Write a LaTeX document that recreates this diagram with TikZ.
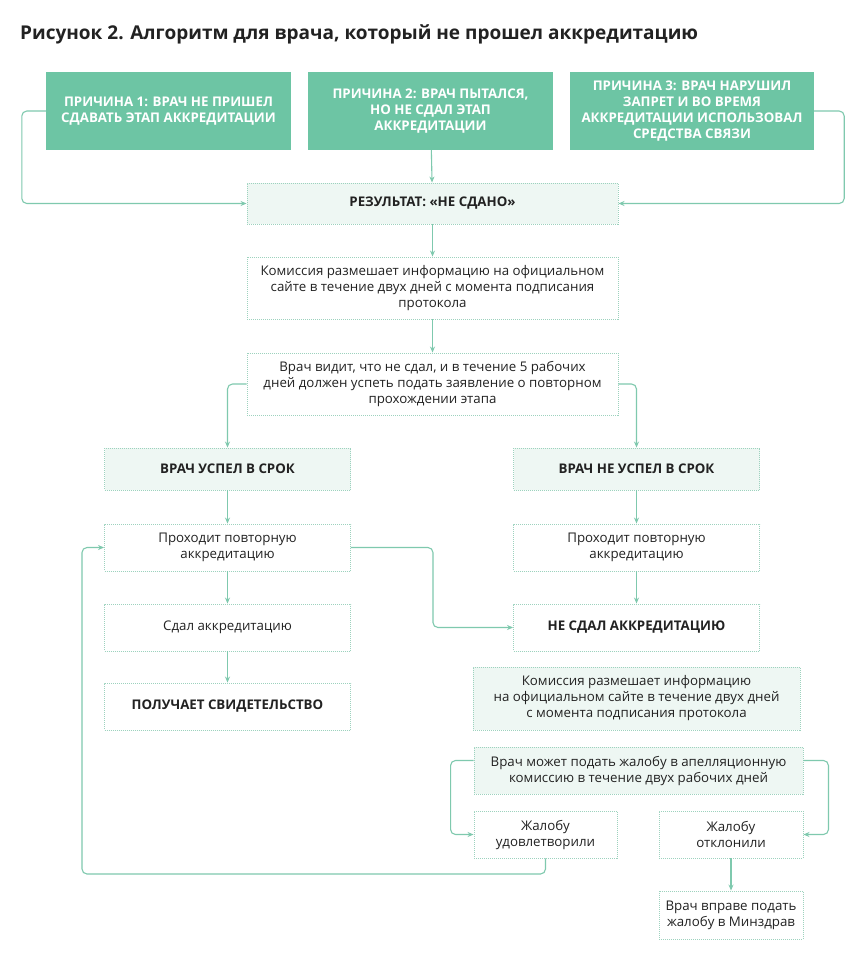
\documentclass[tikz,border=0pt]{standalone}
\usepackage{fontspec}
\setmainfont{Open Sans}
\usetikzlibrary{arrows.meta,calc}
\definecolor{teal1}{HTML}{6DC5A4}
\definecolor{lnc}{HTML}{7FC9AE}
\definecolor{lite}{HTML}{EEF7F3}
\definecolor{dotc}{HTML}{9DD2BE}
\definecolor{txt}{HTML}{222222}
\begin{document}
\begin{tikzpicture}[x=1pt,y=-1pt,
  box/.style={draw=dotc, dash pattern=on 1pt off 1pt, line width=0.9pt, fill=white, text=txt, align=center, inner sep=0pt, font=\fontsize{13.3}{16}\selectfont},
  lbox/.style={box, fill=lite},
  bfont/.style={font=\bfseries\fontsize{13.3}{16}\selectfont},
  top/.style={fill=teal1, text=white, align=center, inner sep=0pt, minimum width=245pt, minimum height=78pt, font=\bfseries\fontsize{13.3}{16}\selectfont},
  arr/.style={draw=lnc, line width=1.1pt, -{Stealth[length=6pt,width=5pt]}, rounded corners=5pt}]
\useasboundingbox (0,0) rectangle (861,960);
\fill[white] (0,0) rectangle (861,960);
\node[anchor=base west, inner sep=0pt, text=txt, font=\bfseries\fontsize{19}{23}\selectfont] (title) at (20,40) {Рисунок 2. Алгоритм для врача, который не прошел аккредитацию};

\node[top] (c1) at (168.5,111) {ПРИЧИНА 1: ВРАЧ НЕ ПРИШЕЛ\\СДАВАТЬ ЭТАП АККРЕДИТАЦИИ};
\node[top] (c2) at (430.5,111) {ПРИЧИНА 2: ВРАЧ ПЫТАЛСЯ,\\НО НЕ СДАЛ ЭТАП\\АККРЕДИТАЦИИ};
\node[top, minimum width=244pt] (c3) at (692,111) {ПРИЧИНА 3: ВРАЧ НАРУШИЛ\\ЗАПРЕТ И ВО ВРЕМЯ\\АККРЕДИТАЦИИ ИСПОЛЬЗОВАЛ\\СРЕДСТВА СВЯЗИ};

\node[lbox, bfont, minimum width=371pt, minimum height=41pt] (res) at (432.5,203.5) {РЕЗУЛЬТАТ: «НЕ СДАНО»};
\node[box, minimum width=371pt, minimum height=62pt] (kom1) at (432.5,288) {Комиссия размешает информацию на официальном\\сайте в течение двух дней с момента подписания\\протокола};
\node[box, minimum width=371pt, minimum height=62pt] (vv) at (432.5,384) {Врач видит, что не сдал, и в течение 5 рабочих\\дней должен успеть подать заявление о повторном\\прохождении этапа};

\node[lbox, bfont, minimum width=246pt, minimum height=42pt] (usp) at (227.5,469) {ВРАЧ УСПЕЛ В СРОК};
\node[lbox, bfont, minimum width=246pt, minimum height=42pt] (neusp) at (636.5,469) {ВРАЧ НЕ УСПЕЛ В СРОК};

\node[box, minimum width=246pt, minimum height=47pt] (pr1) at (227.5,547.5) {Проходит повторную\\аккредитацию};
\node[box, minimum width=246pt, minimum height=47pt] (sdal) at (227.5,627.5) {Сдал аккредитацию};
\node[box, bfont, minimum width=246pt, minimum height=47pt] (pol) at (227.5,706.5) {ПОЛУЧАЕТ СВИДЕТЕЛЬСТВО};

\node[box, minimum width=246pt, minimum height=47pt] (pr2) at (636.5,547.5) {Проходит повторную\\аккредитацию};
\node[box, bfont, minimum width=246pt, minimum height=47pt] (nesdal) at (636.5,627.5) {НЕ СДАЛ АККРЕДИТАЦИЮ};

\node[lbox, minimum width=327pt, minimum height=63pt] (kom2) at (636.5,698.5) {Комиссия размешает информацию\\на официальном сайте в течение двух дней\\с момента подписания протокола};
\node[lbox, minimum width=329pt, minimum height=47pt] (mozh) at (638.5,770.5) {Врач может подать жалобу в апелляционную\\комиссию в течение двух рабочих дней};

\node[box, minimum width=143pt, minimum height=47pt] (udov) at (545.5,834.5) {Жалобу\\удовлетворили};
\node[box, minimum width=144pt, minimum height=47pt] (otkl) at (731,834.5) {Жалобу\\отклонили};
\node[box, minimum width=144pt, minimum height=48pt] (vpr) at (731,915) {Врач вправе подать\\жалобу в Минздрав};

\coordinate (lp) at (82,874);

\draw[arr] (c1.west) -- ++(-24,0) |- (res.west);
\draw[arr] (c3.east) -- ++(30,0) |- (res.east);
\draw[arr] (c2) -- (res);
\draw[arr] (res) -- (kom1);
\draw[arr] (kom1) -- (vv);
\draw[arr] (vv.west) -| (usp.north);
\draw[arr] (vv.east) -| (neusp.north);
\draw[arr] (usp) -- (pr1);
\draw[arr] (pr1) -- (sdal);
\draw[arr] (sdal) -- (pol);
\draw[arr] (neusp) -- (pr2);
\draw[arr] (pr2) -- (nesdal);
\draw[arr] (pr1.east) -- ++(82,0) |- (nesdal.west);
\draw[arr] ([yshift=10pt]mozh.west) -- ++(-23,0) |- (udov.west);
\draw[arr] ([yshift=10pt]mozh.east) -- ++(25,0) |- (otkl.east);
\draw[arr] (udov.south) |- (lp) |- (pr1.west);
\draw[arr] (otkl) -- (vpr);
\end{tikzpicture}
\end{document}
